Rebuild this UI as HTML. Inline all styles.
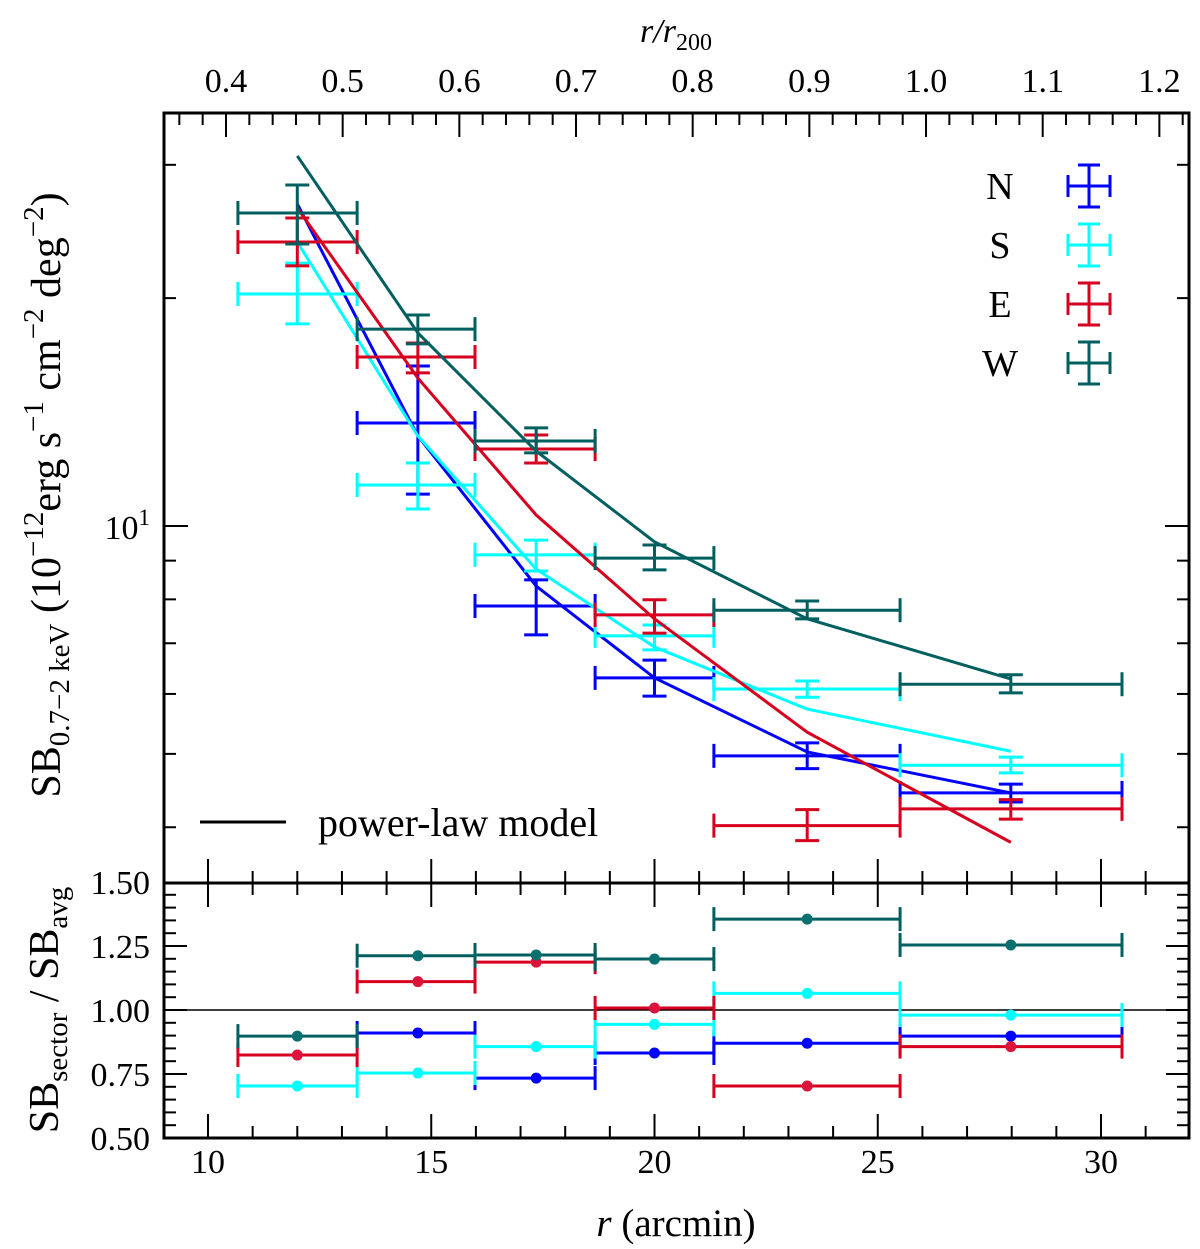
<!DOCTYPE html>
<html><head><meta charset="utf-8">
<style>
html,body{margin:0;padding:0;background:#fff;}
svg{display:block;}
text{font-family:"Liberation Serif","DejaVu Serif",serif;fill:#000;}
</style></head>
<body>
<svg id="chart" xmlns="http://www.w3.org/2000/svg" width="1200" height="1249" viewBox="0 0 1200 1249">
<g id="frame"></g>
<g id="marks"></g>
<g id="labels">
<text x="676" y="42" font-size="34" text-anchor="middle" font-style="italic">r/r<tspan font-style="normal" font-size="24" dy="8">200</tspan></text>
<text x="676" y="1236" font-size="39" text-anchor="middle"><tspan font-style="italic">r</tspan> (arcmin)</text>
<text transform="translate(60,495) rotate(-90)" font-size="42" text-anchor="middle">SB<tspan font-size="29" dy="9">0.7−2 keV</tspan><tspan dy="-9"> (10</tspan><tspan font-size="29" dy="-17">−12</tspan><tspan dy="17">erg s</tspan><tspan font-size="29" dy="-17">−1</tspan><tspan dy="17"> cm</tspan><tspan font-size="29" dy="-17">−2</tspan><tspan dy="17"> deg</tspan><tspan font-size="29" dy="-17">−2</tspan><tspan dy="17">)</tspan></text>
<text transform="translate(58,1010) rotate(-90)" font-size="42" text-anchor="middle">SB<tspan font-size="29" dy="9">sector</tspan><tspan dy="-9"> / SB</tspan><tspan font-size="29" dy="9">avg</tspan></text>
<text x="150" y="539" font-size="34" text-anchor="end">10<tspan font-size="23" dy="-14">1</tspan></text>
</g>
<g id="legend">
<line x1="200" y1="822" x2="286" y2="822" stroke="#000" stroke-width="3"/>
<text x="318" y="836" font-size="40">power-law model</text>
</g>
</svg>
<script>
const centers = [12.0, 14.7, 17.35, 20.0, 23.42, 27.98];
const binLo = [10.67, 13.34, 15.98, 18.67, 21.33, 25.5];
const binHi = [13.34, 15.98, 18.67, 21.33, 25.5, 30.47];
const sectors = ['N', 'S', 'E', 'W'];
const colors = {N:'#0000ff', S:'#00ffff', E:'#d7001e', W:'#005f5f'};
const dotColors = {N:'#0000ff', S:'#00ffff', E:'#dc143c', W:'#0b7070'};
// surface brightness (null = no data)
const sbN = [null, 13.68, 7.84, 6.30, 4.97, 4.44];
const sbNlo = [null, 11.02, 7.18, 5.96, 4.78, 4.32];
const sbNhi = [null, 16.27, 8.49, 6.65, 5.17, 4.56];
const sbS = [20.25, 11.33, 9.16, 7.16, 6.09, 4.83];
const sbSlo = [18.49, 10.53, 8.72, 6.86, 5.94, 4.72];
const sbShi = [22.25, 12.11, 9.58, 7.40, 6.24, 4.95];
const sbE = [23.72, 16.72, 12.64, 7.63, 4.02, 4.23];
const sbElo = [22.06, 15.93, 12.11, 7.22, 3.84, 4.10];
const sbEhi = [25.52, 17.45, 13.19, 7.99, 4.22, 4.35];
const sbW = [25.91, 18.20, 12.95, 9.07, 7.74, 6.18];
const sbWlo = [23.58, 17.40, 12.49, 8.75, 7.54, 6.02];
const sbWhi = [28.21, 19.00, 13.48, 9.44, 7.96, 6.36];
// power-law model values at bin centres
const modelN = [26.63, 13.15, 8.33, 6.30, 5.03, 4.44];
const modelS = [23.72, 13.15, 8.77, 6.92, 5.73, 5.04];
const modelE = [26.31, 15.68, 10.34, 7.54, 5.34, 3.82];
const modelW = [30.82, 17.99, 12.56, 9.53, 7.54, 6.28];
// ratio to average
const ratioN = [null, 0.910, 0.734, 0.832, 0.870, 0.898];
const ratioS = [0.703, 0.754, 0.857, 0.944, 1.065, 0.980];
const ratioE = [0.824, 1.111, 1.187, 1.008, 0.703, 0.857];
const ratioW = [0.898, 1.212, 1.215, 1.199, 1.355, 1.254];
const xTicksMajor = [10, 15, 20, 25, 30];
const topTicks = ['0.4','0.5','0.6','0.7','0.8','0.9','1.0','1.1','1.2'];
const resTicks = ['0.50','0.75','1.00','1.25','1.50'];

const NS = 'http://www.w3.org/2000/svg';
const X = v => 208 + (v - 10) * 44.65;
const Y = v => 526 - Math.log10(v / 10) * 757;
const YR = v => 1010 - (v - 1) * 256;
const XT = v => 226 + (v - 0.4) * 1166.7;
const L = 164, R = 1189, T = 113, MB = 883, RB = 1138;

function mk(parent, tag, attrs) {
  const e = document.createElementNS(NS, tag);
  for (const k in attrs) e.setAttribute(k, attrs[k]);
  parent.appendChild(e);
  return e;
}
const frame = document.getElementById('frame');
const marks = document.getElementById('marks');
const labels = document.getElementById('labels');
const legend = document.getElementById('legend');

function tick(x1, y1, x2, y2) {
  const t = mk(frame, 'line', {x1:x1, y1:y1, x2:x2, y2:y2, stroke:'#000', 'stroke-width':2});
  
  
}
function txt(x, y, s, anchor, name) {
  const t = mk(labels, 'text', {x:x, y:y, 'font-size':34, 'text-anchor':anchor});
  t.textContent = s;
  
  
}

const r1 = mk(frame, 'rect', {x:L, y:T, width:R-L, height:MB-T, fill:'none', stroke:'#000', 'stroke-width':3});


const r2 = mk(frame, 'rect', {x:L, y:MB, width:R-L, height:RB-MB, fill:'none', stroke:'#000', 'stroke-width':3});


const base = mk(frame, 'line', {x1:L, y1:YR(1), x2:R, y2:YR(1), stroke:'#000', 'stroke-width':1.5});



for (let v = 10; v <= 31; v++) {
  const x = X(v), maj = v % 5 === 0, len = maj ? 24 : 12;
  tick(x, MB, x, MB - len);
  tick(x, MB, x, MB + len);
  tick(x, RB, x, RB - len);
}
xTicksMajor.forEach(v => txt(X(v), 1173, String(v), 'middle', 'x-tick-label'));
for (let i = 0; i <= 44; i++) {
  const v = 0.36 + i * 0.02;
  const x = XT(v);
  if (x < L + 2 || x > R - 2) continue;
  const maj = Math.abs(v * 10 - Math.round(v * 10)) < 1e-6;
  tick(x, T, x, T + (maj ? 24 : 12));
}
topTicks.forEach(s => txt(XT(parseFloat(s)), 92, s, 'middle', 'top-tick-label'));
[4,5,6,7,8,9,10,20,30].forEach(v => {
  const y = Y(v), len = v === 10 ? 24 : 12;
  tick(L, y, L + len, y);
  tick(R, y, R - len, y);
});
for (let i = 0; i <= 20; i++) {
  const v = 0.5 + i * 0.05, y = YR(v);
  const maj = i % 5 === 0, len = maj ? 23 : 12;
  if (i === 0 || i === 20) continue;
  tick(L, y, L + len, y);
  tick(R, y, R - len, y);
}
resTicks.forEach(s => txt(150, YR(parseFloat(s)) + 12, s, 'end', 'residual-tick-label'));

const sb = {N:sbN, S:sbS, E:sbE, W:sbW};
const sbLo = {N:sbNlo, S:sbSlo, E:sbElo, W:sbWlo};
const sbHi = {N:sbNhi, S:sbShi, E:sbEhi, W:sbWhi};
const model = {N:modelN, S:modelS, E:modelE, W:modelW};
const ratio = {N:ratioN, S:ratioS, E:ratioE, W:ratioW};

function seg(g, x1, y1, x2, y2, c) {
  mk(g, 'line', {x1:x1, y1:y1, x2:x2, y2:y2, stroke:c, 'stroke-width':3});
}

sectors.forEach(s => {
  const c = colors[s];
  const pts = model[s].map((v, i) => X(centers[i]) + ',' + Y(v)).join(' ');
  const pl = mk(marks, 'polyline', {points:pts, fill:'none', stroke:c, 'stroke-width':3});
  
  
  sb[s].forEach((v, i) => {
    if (v === null) return;
    const g = mk(marks, 'g', {});
    
    
    const x0 = X(binLo[i]), x1 = X(binHi[i]), xc = X(centers[i]);
    const y = Y(v), ylo = Y(sbLo[s][i]), yhi = Y(sbHi[s][i]);
    seg(g, x0, y, x1, y, c);
    seg(g, x0, y - 12, x0, y + 12, c);
    seg(g, x1, y - 12, x1, y + 12, c);
    seg(g, xc, ylo, xc, yhi, c);
    seg(g, xc - 12, ylo, xc + 12, ylo, c);
    seg(g, xc - 12, yhi, xc + 12, yhi, c);
  });
  ratio[s].forEach((v, i) => {
    if (v === null) return;
    const g = mk(marks, 'g', {});
    
    
    const x0 = X(binLo[i]), x1 = X(binHi[i]), xc = X(centers[i]), y = YR(v);
    seg(g, x0, y, x1, y, c);
    seg(g, x0, y - 12, x0, y + 12, c);
    seg(g, x1, y - 12, x1, y + 12, c);
    mk(g, 'circle', {cx:xc, cy:y, r:5.5, fill:dotColors[s]});
  });
});

const legY = [186, 245, 304, 363];
sectors.forEach((s, i) => {
  const g = mk(legend, 'g', {});
  
  
  const t = mk(g, 'text', {x:1000, y:legY[i] + 13, 'font-size':38, 'text-anchor':'middle'});
  t.textContent = s;
  const c = colors[s], xc = 1089, y = legY[i];
  seg(g, xc - 21, y, xc + 21, y, c);
  seg(g, xc - 21, y - 11, xc - 21, y + 11, c);
  seg(g, xc + 21, y - 11, xc + 21, y + 11, c);
  seg(g, xc, y - 21, xc, y + 21, c);
  seg(g, xc - 11, y - 21, xc + 11, y - 21, c);
  seg(g, xc - 11, y + 21, xc + 11, y + 21, c);
});
</script>
</body></html>
